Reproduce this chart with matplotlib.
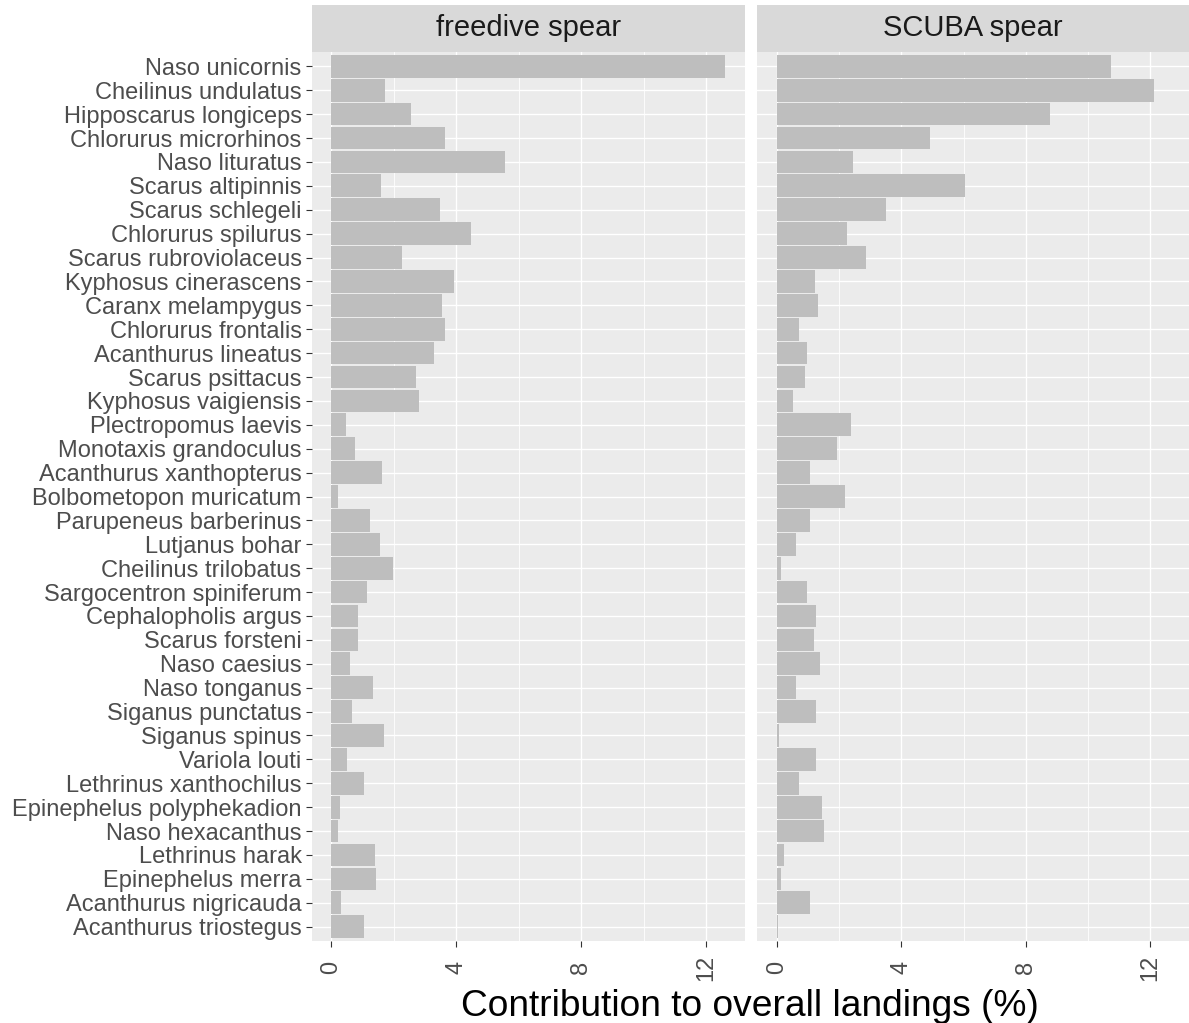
import matplotlib
matplotlib.use('Agg')
import matplotlib.pyplot as plt
import numpy as np

species = [
    "Naso unicornis", "Cheilinus undulatus", "Hipposcarus longiceps", "Chlorurus microrhinos",
    "Naso lituratus", "Scarus altipinnis", "Scarus schlegeli", "Chlorurus spilurus",
    "Scarus rubroviolaceus", "Kyphosus cinerascens", "Caranx melampygus", "Chlorurus frontalis",
    "Acanthurus lineatus", "Scarus psittacus", "Kyphosus vaigiensis", "Plectropomus laevis",
    "Monotaxis grandoculus", "Acanthurus xanthopterus", "Bolbometopon muricatum", "Parupeneus barberinus",
    "Lutjanus bohar", "Cheilinus trilobatus", "Sargocentron spiniferum", "Cephalopholis argus",
    "Scarus forsteni", "Naso caesius", "Naso tonganus", "Siganus punctatus",
    "Siganus spinus", "Variola louti", "Lethrinus xanthochilus", "Epinephelus polyphekadion",
    "Naso hexacanthus", "Lethrinus harak", "Epinephelus merra", "Acanthurus nigricauda",
    "Acanthurus triostegus",
]

freedive = [12.61, 1.73, 2.56, 3.64, 5.55, 1.58, 3.49, 4.46, 2.27, 3.92, 3.54, 3.64,
            3.29, 2.71, 2.81, 0.46, 0.75, 1.63, 0.22, 1.24, 1.54, 1.97, 1.15, 0.85,
            0.85, 0.60, 1.34, 0.66, 1.69, 0.51, 1.04, 0.27, 0.22, 1.39, 1.44, 0.32, 1.04]

scuba = [10.74, 12.10, 8.78, 4.93, 2.43, 6.04, 3.50, 2.24, 2.87, 1.21, 1.31, 0.71,
         0.97, 0.91, 0.52, 2.38, 1.94, 1.06, 2.19, 1.06, 0.62, 0.13, 0.97, 1.25,
         1.20, 1.40, 0.62, 1.25, 0.07, 1.25, 0.71, 1.44, 1.51, 0.22, 0.13, 1.06, 0.05]

panels = ["freedive spear", "SCUBA spear"]
series = [freedive, scuba]
xticks = [0, 4, 8, 12]
xminor = [2, 6, 10]
xlabel = "Contribution to overall landings (%)"

plt.rcParams['font.family'] = ['Liberation Sans', 'DejaVu Sans']

W, H = 1189, 1023
fig = plt.figure(figsize=(W / 100, H / 100), dpi=100)


def rect(x0, y0, x1, y1):
    return [x0 / W, 1 - y1 / H, (x1 - x0) / W, (y1 - y0) / H]


panel_x = [(311.7, 745.0), (757.3, 1189.0)]
ytop, ybot = 52.0, 941.0
strip_top = 5.0

xmax = max(max(freedive), max(scuba))
xlim = (-0.05 * xmax, 1.05 * xmax)
n = len(species)
ypos = np.arange(n)

for i, (name, vals) in enumerate(zip(panels, series)):
    x0, x1 = panel_x[i]
    ax = fig.add_axes(rect(x0, ytop, x1, ybot))
    ax.set_facecolor('#EBEBEB')
    ax.barh(ypos, vals, height=0.95, color='#BEBEBE', edgecolor='none', zorder=3)
    ax.set_xlim(*xlim)
    ax.set_ylim(n - 1 + 0.6, -0.6)
    ax.set_xticks(xticks)
    ax.set_xticks(xminor, minor=True)
    ax.set_xticklabels([str(t) for t in xticks], rotation=90, va='center', ha='center')
    ax.set_yticks(ypos)
    ax.grid(which='major', color='white', linewidth=1.0, zorder=1)
    ax.grid(which='minor', axis='x', color='white', linewidth=0.6, zorder=1)
    ax.set_axisbelow(True)
    for s in ax.spines.values():
        s.set_visible(False)
    ax.tick_params(axis='x', which='major', length=4.3, width=0.8, color='#333333',
                   labelsize=17, labelcolor='#4D4D4D', pad=15)
    ax.tick_params(axis='x', which='minor', length=0)
    if i == 0:
        ax.set_yticklabels(species)
        ax.tick_params(axis='y', length=4.3, width=0.8, color='#333333',
                       labelsize=17, labelcolor='#4D4D4D', pad=3.0)
    else:
        ax.tick_params(axis='y', left=False, labelleft=False)

    sax = fig.add_axes(rect(x0, strip_top, x1, ytop))
    sax.set_facecolor('#D9D9D9')
    sax.set_xticks([])
    sax.set_yticks([])
    for s in sax.spines.values():
        s.set_visible(False)
    sax.text(0.5, 0.5, name, ha='center', va='center', fontsize=21, color='#1A1A1A',
             transform=sax.transAxes)

fig.text(((311.7 + 1189) / 2) / W, 1 - 1016.5 / H, xlabel, ha='center', va='baseline',
         fontsize=26.7, color='black')

fig.savefig('out.png', dpi=100)
